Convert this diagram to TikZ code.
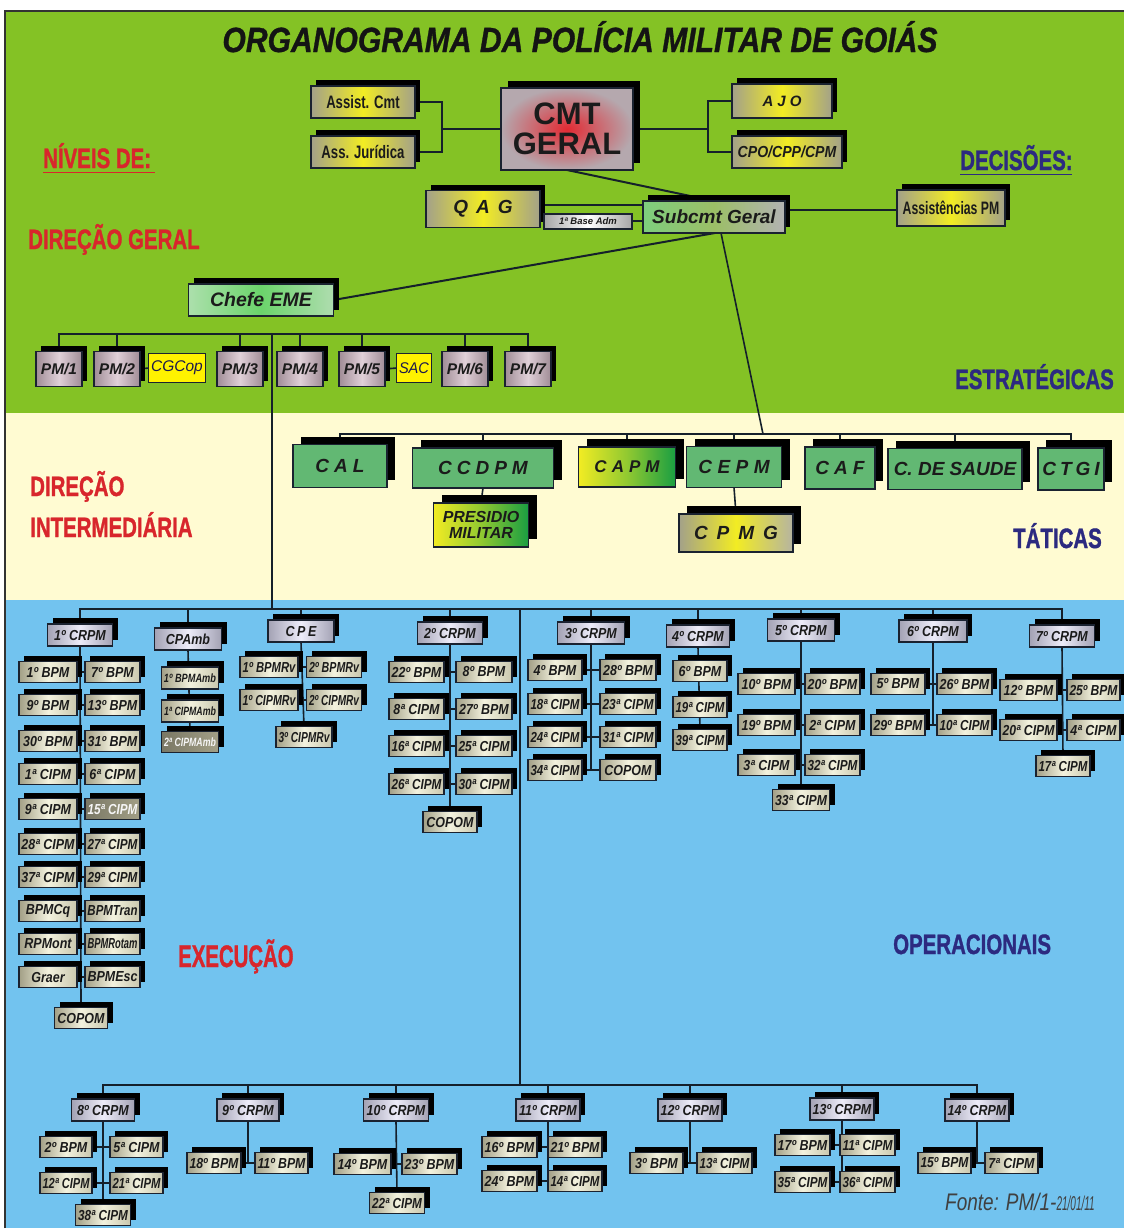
\documentclass[tikz,border=0pt]{standalone}
\usepackage{fontspec}
\setmainfont{Liberation Sans}
\newfontfamily\heavy[FakeBold=1.4]{Liberation Sans Bold}
\newfontfamily\heavyit[FakeBold=1.0]{Liberation Sans Bold Italic}
\usepackage{graphicx}
\usetikzlibrary{shadows}
\definecolor{grn}{HTML}{84C225}
\definecolor{crm}{HTML}{FFFBD2}
\definecolor{blu}{HTML}{72C3EF}
\definecolor{lnc}{HTML}{15202B}
\definecolor{bdc}{HTML}{1A2230}
\definecolor{txc}{HTML}{1B1B1B}
\definecolor{redl}{HTML}{D8262C}
\definecolor{navy}{HTML}{2C2A80}
\definecolor{khL}{HTML}{A29F86}
\definecolor{khM}{HTML}{F3F2DE}
\definecolor{khR}{HTML}{C9C7AE}
\definecolor{lvL}{HTML}{A3A2B4}
\definecolor{lvM}{HTML}{EDECF9}
\definecolor{pkL}{HTML}{A08C96}
\definecolor{pkM}{HTML}{E0D0D8}
\definecolor{gyL}{HTML}{A3A189}
\definecolor{yel}{HTML}{F2EC23}
\definecolor{tgr}{HTML}{62B873}
\definecolor{dgr}{HTML}{1A9E42}
\definecolor{cgc}{HTML}{FFF200}
\definecolor{cmtred}{HTML}{E22A33}
\definecolor{cmtgy}{HTML}{B5A8AE}

\newsavebox\fitbox
\newdimen\fitd
\newcommand\fitw[2]{\fitd=#1\relax\sbox\fitbox{#2}\ifdim\wd\fitbox>\fitd\resizebox{\fitd}{\height}{\usebox\fitbox}\else\usebox\fitbox\fi}
\newcommand\fs[1]{\fontsize{#1}{#1}\selectfont}
\newcommand\nar[2][0.74]{\scalebox{#1}[1]{#2}}
\newcommand\gap[1][5pt]{\hspace{#1}}
\newcommand\lbl[2][28]{\scalebox{0.73}[1]{\fs{#1}\heavy #2}}

\pgfdeclarelayer{back}\pgfdeclarelayer{bg}\pgfsetlayers{back,bg,main}

\newcommand\bx[7][]{\node[#2,minimum width=#5,minimum height=#6,#1] (#3) at (#4) {\fitw{\dimexpr#5pt-5pt\relax}{#7}};}
\newcommand\ex[5][]{\bx[#1]{ex}{#2}{#3}{#4}{21}{\nar[0.86]{#5}}}
\newcommand\rg[4]{\bx{crp}{#1}{#2}{#3}{22}{\nar[0.86]{#4}}}
\newcommand\pr[9]{\ex{#1}{#3,#7}{#4}{#8}\ex{#2}{#5,#7}{#6}{#9}\begin{pgfonlayer}{bg}\draw[cn] (#1.east) -- (#2.west);\end{pgfonlayer}}

\tikzset{
 cn/.style={draw=lnc,line width=1.6pt},
 box/.style={draw=bdc,line width=1.3pt,inner sep=0pt,outer sep=0pt,text=txc},
 shd/.style={drop shadow={shadow xshift=5pt,shadow yshift=6pt,opacity=1,fill=black}},
 shdb/.style={drop shadow={shadow xshift=8pt,shadow yshift=8pt,opacity=1,fill=black}},
 ex/.style={box,shd,left color=khL,right color=khR,middle color=khM,font=\bfseries\itshape\fs{14.5}},
 crp/.style={box,shd,left color=lvL,right color=lvL,middle color=lvM,font=\bfseries\itshape\fs{14.5}},
 pm/.style={box,shd,left color=pkL,right color=pkL,middle color=pkM,font=\bfseries\itshape\fs{15.5}},
 topy/.style={box,shd,left color=gyL,right color=gyL,middle color=yel},
 tac/.style={box,shdb,fill=tgr,font=\bfseries\itshape\fs{19}},
 ylw/.style={draw=bdc,line width=0.8pt,fill=cgc,inner sep=0pt,outer sep=0pt,text=navy!60!black,font=\itshape\fs{15.5}},
}

\begin{document}
\begin{tikzpicture}[x=1pt,y=-1pt]
\useasboundingbox (0,0) rectangle (1124,1232);
\begin{pgfonlayer}{back}
\fill[white] (0,0) rectangle (1124,1232);
\fill[grn] (5,11) rectangle (1124,413);
\fill[crm] (5,413) rectangle (1124,600);
\fill[blu] (5,600) rectangle (1124,1228);
\draw[line width=1.6pt,black!80] (5,1228) -- (5,11) -- (1124,11);
\end{pgfonlayer}

% title and level labels
\node[anchor=base,inner sep=0pt,text=black!92] (title) at (580,52) {\scalebox{0.86}[1]{\fs{35}\heavyit ORGANOGRAMA DA POLÍCIA MILITAR DE GOIÁS}};
\node[anchor=base west,inner sep=0pt,text=redl] (lniv) at (43,168) {\lbl{NÍVEIS DE:}};
\draw[redl,line width=1.5pt] (lniv.south west) ++(0,4) -- ++(112,0);
\node[anchor=base west,inner sep=0pt,text=redl] (ldg) at (28,249) {\lbl{DIREÇÃO GERAL}};
\node[anchor=base west,inner sep=0pt,text=navy] (ldec) at (960,170) {\lbl{DECISÕES:}};
\draw[navy,line width=1.5pt] (ldec.south west) ++(0,4) -- ++(112,0);
\node[anchor=base west,inner sep=0pt,text=navy] (lest) at (955,389) {\lbl{ESTRATÉGICAS}};
\node[anchor=base west,inner sep=0pt,text=redl] (ldir) at (30,496) {\lbl{DIREÇÃO}};
\node[anchor=base west,inner sep=0pt,text=redl] (lint) at (30,537) {\lbl{INTERMEDIÁRIA}};
\node[anchor=base west,inner sep=0pt,text=navy] (ltat) at (1013,548) {\lbl{TÁTICAS}};
\node[anchor=base west,inner sep=0pt,text=redl] (lexe) at (178,967) {\scalebox{0.9}[1]{\lbl[31]{EXECUÇÃO}}};
\node[anchor=base west,inner sep=0pt,text=navy] (lope) at (893,954) {\lbl{OPERACIONAIS}};
\node[anchor=base west,inner sep=0pt,text=black!75] (fonte) at (945,1210) {\scalebox{0.79}[1]{\fs{24}\itshape Fonte: PM/1-}\scalebox{0.5}[1]{\fs{20}\itshape 21/01/11}};

% top command
\node[box,drop shadow={shadow xshift=7pt,shadow yshift=7pt,opacity=1,fill=black},inner color=cmtred,outer color=cmtgy,minimum width=132,minimum height=82,align=center,font=\bfseries\fontsize{31}{30}\selectfont] (cmt) at (567,129) {CMT\\GERAL};
\bx{topy,font=\bfseries\fs{18}}{assist}{363,102}{104}{32}{\nar[0.73]{Assist. Cmt}}
\bx{topy,font=\bfseries\fs{18}}{assjur}{363,152}{104}{32}{\nar[0.73]{Ass. Jurídica}}
\bx{topy,font=\bfseries\itshape\fs{15}}{ajo}{782,101}{100}{34}{A\gap[4pt]J\gap[4pt]O}
\bx{topy,font=\bfseries\itshape\fs{16}}{cpo}{787,152}{110}{32}{\nar[0.88]{CPO/CPP/CPM}}
\bx{topy,font=\bfseries\itshape\fs{19}}{qag}{483,209}{114}{37}{Q\gap[8pt]A\gap[8pt]G}
\bx{box,left color=gray!70,right color=gray!70,middle color=white,line width=2pt,font=\bfseries\itshape\fs{9.5}}{base}{588,221}{88}{15}{1ª Base Adm}
\bx{box,shd,left color=green!45!gray!70!white,right color=gray!60,middle color=grn!70!gray!80!white,font=\bfseries\itshape\fs{19}}{subcmt}{714,217}{142}{32}{Subcmt Geral}
\bx{topy,font=\bfseries\fs{18}}{apm}{951,208}{108}{36}{\nar[0.68]{Assistências PM}}
\bx{box,shd,left color=gray!55!green!45,right color=gray!60!green!45,middle color=green!55!gray!75,font=\bfseries\itshape\fs{19.5}}{chefe}{261,300}{145}{32}{Chefe EME}

% PM row
\bx{pm}{pm1}{59,369}{46}{35}{PM/1}
\bx{pm}{pm2}{117,369}{46}{35}{PM/2}
\bx{ylw}{cgcop}{177,368}{57}{29}{CGCop}
\bx{pm}{pm3}{240,369}{46}{35}{PM/3}
\bx{pm}{pm4}{300,369}{46}{35}{PM/4}
\bx{pm}{pm5}{362,369}{46}{35}{PM/5}
\bx{ylw}{sac}{414,368}{35}{29}{SAC}
\bx{pm}{pm6}{465,369}{46}{35}{PM/6}
\bx{pm}{pm7}{528,369}{46}{35}{PM/7}

% tactical
\bx{tac}{cal}{340,466}{94}{43}{C\gap A\gap L}
\bx{tac}{ccdpm}{483,468}{141}{40}{C\gap C\gap D\gap P\gap M}
\bx{tac,left color=yel,right color=dgr,middle color=yel!55!dgr,font=\bfseries\itshape\fs{17}}{capm}{627,467}{97}{40}{C\gap A\gap P\gap M}
\bx{tac}{cepm}{734,467}{95}{41}{C\gap[5.5pt]E\gap[5.5pt]P\gap[5.5pt]M}
\bx{tac}{caf}{840,468}{70}{42}{C\gap A\gap F}
\bx{tac}{saude}{955,469}{134}{41}{C. DE SAUDE}
\bx{tac}{ctgi}{1071,469}{66}{42}{C\gap[4pt]T\gap[4pt]G\gap[4pt]I}
\node[box,shdb,left color=yel,right color=dgr,middle color=yel!55!dgr,align=center,minimum width=95,minimum height=44,font=\bfseries\itshape\fs{16}] (presidio) at (481,525) {PRESIDIO\\MILITAR};
\bx{tac,left color=gyL,right color=gyL!80!white,middle color=yel}{cpmg}{736,533}{114}{38}{C\gap[9pt]P\gap[9pt]M\gap[9pt]G}

% 1o CRPM
\rg{r1}{80,635}{65}{1º CRPM}
\pr{a1}{b1}{48}{58}{112.5}{55}{672}{1º BPM}{7º BPM}
\pr{a2}{b2}{48}{58}{112.5}{55}{705}{9º BPM}{13º BPM}
\pr{a3}{b3}{48}{58}{112.5}{55}{741}{30º BPM}{31º BPM}
\pr{a4}{b4}{48}{58}{112.5}{55}{774}{1ª CIPM}{6ª CIPM}
\ex{a5}{48,809}{58}{9ª CIPM}
\ex[text=white!92!gray,left color=khL!75!black,middle color=khL!90!white,right color=khL]{b5}{112.5,809}{55}{15ª CIPM}
\begin{pgfonlayer}{bg}\draw[cn] (a5.east) -- (b5.west);\end{pgfonlayer}
\pr{a6}{b6}{48}{58}{112.5}{55}{844}{28ª CIPM}{27ª CIPM}
\pr{a7}{b7}{48}{58}{112.5}{55}{877}{37ª CIPM}{29ª CIPM}
\pr{a8}{b8}{48}{58}{112.5}{55}{911}{BPMCq}{BPMTran}
\pr{a9}{b9}{48}{58}{112.5}{55}{944}{RPMont}{BPMRotam}
\pr{a10}{b10}{48}{58}{112.5}{55}{977}{Graer}{BPMEsc}
\ex{cop1}{81,1018}{53}{COPOM}

% CPAmb
\rg{cpa}{188,639}{67}{CPAmb}
\bx{ex,font=\bfseries\itshape\fs{12}}{am1}{190,678}{57}{22}{\nar[0.86]{1º BPMAmb}}
\bx{ex,font=\bfseries\itshape\fs{12}}{am2}{190,711}{57}{22}{\nar[0.86]{1ª CIPMAmb}}
\bx{ex,font=\bfseries\itshape\fs{12},text=white!92!gray,left color=khL!75!black,middle color=khL!90!white,right color=khL}{am3}{190,742}{57}{21}{\nar[0.86]{2ª CIPMAmb}}

% CPE
\rg{cpe}{301,631}{66}{C\gap[3pt]P\gap[3pt]E}
\pr{rv1}{rv2}{269}{58}{334}{55}{667}{1º BPMRv}{2º BPMRv}
\pr{rv3}{rv4}{269}{58}{334}{55}{700}{1º CIPMRv}{2º CIPMRv}
\ex{rv5}{304,737}{56}{3º CIPMRv}

% 2o CRPM
\rg{r2}{450,633}{65}{2º CRPM}
\pr{c1}{d1}{416.5}{55}{484}{56}{672}{22º BPM}{8º BPM}
\pr{c2}{d2}{416.5}{55}{484}{56}{709}{8ª CIPM}{27º BPM}
\pr{c3}{d3}{416.5}{55}{484}{56}{746}{16ª CIPM}{25ª CIPM}
\pr{c4}{d4}{416.5}{55}{484}{56}{784}{26ª CIPM}{30ª CIPM}
\ex{cop2}{450,822}{54}{COPOM}

% 3o CRPM
\rg{r3}{591,633}{67}{3º CRPM}
\pr{e1}{f1}{555}{54}{628}{56}{670}{4º BPM}{28º BPM}
\pr{e2}{f2}{555}{54}{628}{56}{704}{18ª CIPM}{23ª CIPM}
\pr{e3}{f3}{555}{54}{628}{56}{737}{24ª CIPM}{31ª CIPM}
\pr{e4}{f4}{555}{54}{628}{56}{770}{34ª CIPM}{COPOM}

% 4o CRPM
\rg{r4}{698,636}{63}{4º CRPM}
\ex{g1}{700,671}{54}{6º BPM}
\ex{g2}{700,707}{54}{19ª CIPM}
\ex{g3}{700,740}{54}{39ª CIPM}

% 5o CRPM
\rg{r5}{801,630}{67}{5º CRPM}
\pr{h1}{i1}{766.5}{57}{832.5}{55}{684}{10º BPM}{20º BPM}
\pr{h2}{i2}{766.5}{57}{832.5}{55}{725}{19º BPM}{2ª CIPM}
\pr{h3}{i3}{766.5}{57}{832.5}{55}{765}{3ª CIPM}{32ª CIPM}
\ex{h4}{801,800}{57}{33ª CIPM}

% 6o CRPM
\rg{r6}{933,631}{68}{6º CRPM}
\pr{j1}{k1}{898}{54}{964.5}{55}{684}{5º BPM}{26º BPM}
\pr{j2}{k2}{898}{54}{964.5}{55}{725}{29º BPM}{10ª CIPM}

% 7o CRPM
\rg{r7}{1062,636}{65}{7º CRPM}
\pr{l1}{m1}{1028.5}{57}{1093.5}{53}{690}{12º BPM}{25º BPM}
\pr{l2}{m2}{1028.5}{57}{1093.5}{53}{730}{20ª CIPM}{4ª CIPM}
\ex{l3}{1063,766}{54}{17ª CIPM}

% bottom row
\rg{r8}{103,1110}{63}{8º CRPM}
\pr{n1}{o1}{66}{52}{136.5}{53}{1147}{2º BPM}{5ª CIPM}
\pr{n2}{o2}{66}{52}{136.5}{53}{1183}{12ª CIPM}{21ª CIPM}
\ex{n3}{103,1215}{55}{38ª CIPM}

\rg{r9}{248,1110}{62}{9º CRPM}
\pr{p1}{q1}{214}{54}{281.5}{53}{1163}{18º BPM}{11º BPM}

\rg{r10}{396,1110}{65}{10º CRPM}
\pr{s1}{t1}{362.5}{57}{429.5}{55}{1164}{14º BPM}{23º BPM}
\ex{s2}{397,1203}{55}{22ª CIPM}

\rg{r11}{548,1110}{64}{11º CRPM}
\pr{u1}{v1}{509.5}{55}{575}{54}{1147}{16º BPM}{21º BPM}
\pr{u2}{v2}{509.5}{55}{575}{54}{1181}{24º BPM}{14ª CIPM}

\rg{r12}{690,1110}{64}{12º CRPM}
\pr{w1}{z1}{656.5}{53}{724.5}{55}{1163}{3º BPM}{13ª CIPM}

\rg{r13}{842,1109}{64}{13º CRPM}
\pr{aa1}{bb1}{802.5}{55}{867.5}{55}{1145}{17º BPM}{11ª CIPM}
\pr{aa2}{bb2}{802.5}{55}{867.5}{55}{1182}{35ª CIPM}{36ª CIPM}

\rg{r14}{977,1110}{64}{14º CRPM}
\pr{cc1}{dd1}{944.5}{53}{1011.5}{53}{1163}{15º BPM}{7ª CIPM}

% connectors
\begin{pgfonlayer}{bg}
\coordinate (jl) at (442,129);
\coordinate (jr) at (708,129);
\coordinate (y205) at (0,205);
\coordinate (y210) at (0,210);
\coordinate (pbus) at (0,334);
\coordinate (pmj) at (272,334);
\coordinate (exj) at (272,609);
\coordinate (tbus) at (0,434);
\coordinate (tj) at (763,434);
\coordinate (tb) at (0,609);
\coordinate (mj) at (520,609);
\coordinate (bj) at (520,1085);
\coordinate (bb) at (0,1085);

\draw[cn] (assist.east) -| (jl) |- (assjur.east);
\draw[cn] (jl) -- (cmt.west);
\draw[cn] (ajo.west) -| (jr) |- (cpo.west);
\draw[cn] (jr) -- (cmt.east);
\draw[cn,line width=2pt] (cmt.south) -- (subcmt.north);
\draw[cn] (qag.east |- y205) -- (subcmt.west |- y205);
\draw[cn] (base.east) -- (subcmt.west |- base.east);
\draw[cn] (subcmt.east |- y210) -- (apm.west |- y210);
\draw[cn,line width=2pt] ([xshift=1pt]subcmt.south) -- (chefe.east);
\draw[cn] ([xshift=7pt]subcmt.south) -- (tj);

\draw[cn] (pm1.north) -- (pm1.north |- pbus) -- (pm7.north |- pbus) -- (pm7.north);
\foreach \n in {pm2,pm3,pm4,pm5,pm6} \draw[cn] (\n.north) -- (\n.north |- pbus);
\draw[cn] (pm2.east) -- (cgcop.west);
\draw[cn] (pm5.east) -- (sac.west);
\draw[cn,line width=1.2pt] (pmj) -- (exj);

\draw[cn] (cal.north) -- (cal.north |- tbus) -- (ctgi.north |- tbus) -- (ctgi.north);
\foreach \n in {ccdpm,capm,cepm,caf,saude} \draw[cn] (\n.north) -- (\n.north |- tbus);
\draw[cn] (ccdpm.south) -- (presidio.north);
\draw[cn] (cepm.south) -- (cpmg.north);

\draw[cn] (r1.north) -- (r1.north |- tb) -- (r7.north |- tb) -- (r7.north);
\foreach \n in {cpa,cpe,r2,r3,r4,r5,r6} \draw[cn] (\n.north) -- (\n.north |- tb);
\draw[cn,line width=1.2pt] (mj) -- (bj);
\draw[cn] (r8.north) -- (r8.north |- bb) -- (r14.north |- bb) -- (r14.north);
\foreach \n in {r9,r10,r11,r12,r13} \draw[cn] (\n.north) -- (\n.north |- bb);

\draw[cn] (r1.south) -- (cop1.north);
\draw[cn] (cpa.south) -- (am3.north);
\draw[cn] (cpe.south) -- (rv5.north);
\draw[cn] (r2.south) -- (cop2.north);
\draw[cn] (r3.south) -- (r3.south |- e4.east);
\draw[cn] (r4.south) -- (g3.north);
\draw[cn] (r5.south) -- (h4.north);
\draw[cn] (r6.south) -- (r6.south |- j2.east);
\draw[cn] (r7.south) -- (l3.north);
\draw[cn] (r8.south) -- (n3.north);
\draw[cn] (r9.south) -- (r9.south |- p1.east);
\draw[cn] (r10.south) -- (s2.north);
\draw[cn] (r11.south) -- (r11.south |- u2.east);
\draw[cn] (r12.south) -- (r12.south |- w1.east);
\draw[cn] (r13.south) -- (r13.south |- aa2.east);
\draw[cn] (r14.south) -- (r14.south |- cc1.east);
\end{pgfonlayer}
\end{tikzpicture}
\end{document}
